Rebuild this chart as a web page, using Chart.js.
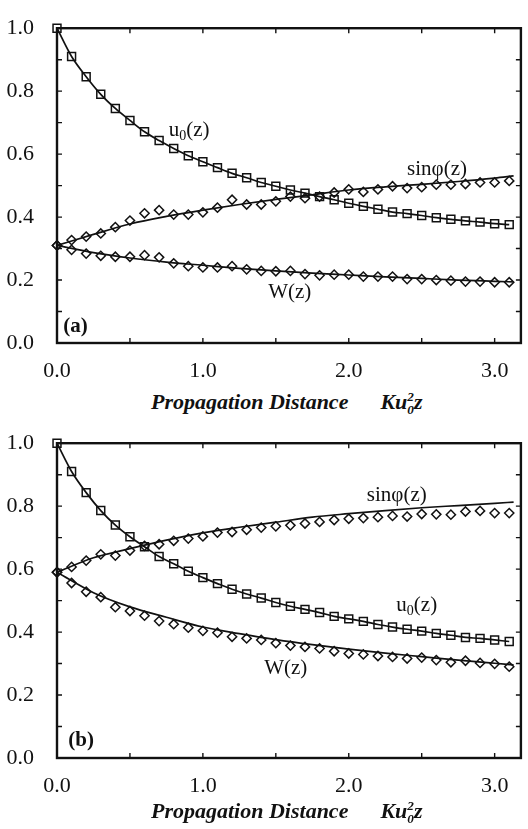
<!DOCTYPE html>
<html>
<head>
<meta charset="utf-8">
<script src="https://cdn.jsdelivr.net/npm/chart.js@4.4.0/dist/chart.umd.min.js"></script>
<style>
  body { margin: 0; background: #fff; }
  #wrap { position: relative; width: 528px; height: 829px; overflow: hidden; }
  .panel { position: absolute; left: 0; width: 528px; height: 385px; }
  .xtitle { position: absolute; left: 151px; font-family: "Liberation Serif", "Times New Roman", serif; font-style: italic; font-weight: bold; font-size: 22px; color: #111; white-space: nowrap; line-height: 24px; }
  .gap { margin-left: 32px; }
  .ss { display: inline-block; vertical-align: -0.35em; font-size: 0.6em; line-height: 0.95; }
  .ss span { display: block; }
</style>
</head>
<body>
<div id="wrap">
  <canvas id="chartA" class="panel" width="528" height="385" style="top:0px"></canvas>
  <div class="xtitle" style="top:390px">Propagation Distance<span class="gap">Ku<span class="ss"><span>2</span><span>0</span></span>z</span></div>
  <canvas id="chartB" class="panel" width="528" height="385" style="top:415px"></canvas>
  <div class="xtitle" style="top:799px">Propagation Distance<span class="gap">Ku<span class="ss"><span>2</span><span>0</span></span>z</span></div>
</div>
<script>
// propagation distance of the simulated points
const zs = [0.0, 0.1, 0.2, 0.3, 0.4, 0.5, 0.6, 0.7, 0.8, 0.9, 1.0, 1.1, 1.2, 1.3, 1.4, 1.5,
            1.6, 1.7, 1.8, 1.9, 2.0, 2.1, 2.2, 2.3, 2.4, 2.5, 2.6, 2.7, 2.8, 2.9, 3.0, 3.1];

// panel (a) - points
const u0A  = [1.0, 0.91, 0.846, 0.79, 0.745, 0.707, 0.671, 0.643, 0.618, 0.595, 0.576, 0.557, 0.539, 0.525, 0.51, 0.498,
              0.486, 0.476, 0.465, 0.455, 0.444, 0.434, 0.425, 0.416, 0.411, 0.405, 0.398, 0.393, 0.388, 0.384, 0.379, 0.376];
const sinA = [0.31, 0.327, 0.338, 0.348, 0.368, 0.389, 0.412, 0.422, 0.408, 0.408, 0.415, 0.43, 0.455, 0.44, 0.44, 0.45,
              0.465, 0.46, 0.465, 0.478, 0.488, 0.48, 0.488, 0.498, 0.492, 0.495, 0.503, 0.503, 0.505, 0.51, 0.51, 0.515];
const wA   = [0.31, 0.296, 0.284, 0.277, 0.274, 0.274, 0.279, 0.272, 0.253, 0.244, 0.24, 0.24, 0.244, 0.234, 0.229, 0.228,
              0.229, 0.219, 0.215, 0.217, 0.217, 0.211, 0.211, 0.211, 0.203, 0.203, 0.2, 0.198, 0.195, 0.195, 0.193, 0.193];

// panel (b) - points
const u0B  = [1.0, 0.91, 0.843, 0.786, 0.74, 0.703, 0.671, 0.64, 0.617, 0.593, 0.573, 0.554, 0.536, 0.521, 0.508, 0.494,
              0.482, 0.472, 0.462, 0.45, 0.442, 0.434, 0.424, 0.416, 0.409, 0.403, 0.396, 0.39, 0.383, 0.38, 0.375, 0.37];
const sinB = [0.59, 0.607, 0.627, 0.647, 0.643, 0.659, 0.674, 0.679, 0.69, 0.697, 0.704, 0.716, 0.718, 0.725, 0.732, 0.736,
              0.739, 0.745, 0.75, 0.756, 0.76, 0.762, 0.765, 0.769, 0.767, 0.775, 0.774, 0.773, 0.783, 0.785, 0.778, 0.778];
const wB   = [0.59, 0.556, 0.528, 0.511, 0.479, 0.467, 0.452, 0.435, 0.425, 0.414, 0.404, 0.398, 0.385, 0.38, 0.375, 0.365,
              0.357, 0.353, 0.348, 0.339, 0.332, 0.329, 0.324, 0.321, 0.316, 0.319, 0.311, 0.304, 0.309, 0.302, 0.299, 0.29];

// solid curves (analytic result)
const lineZ    = [0.0, 0.25, 0.5, 0.75, 1.0, 1.25, 1.5, 1.75, 2.0, 2.25, 2.5, 2.75, 3.0, 3.13];
const sinLineA = [0.31, 0.345, 0.378, 0.402, 0.422, 0.44, 0.456, 0.471, 0.486, 0.496, 0.504, 0.513, 0.524, 0.531];
const wLineA   = [0.31, 0.287, 0.27, 0.257, 0.247, 0.237, 0.229, 0.222, 0.216, 0.21, 0.205, 0.2, 0.196, 0.194];
const sinLineB = [0.59, 0.636, 0.665, 0.692, 0.715, 0.733, 0.749, 0.765, 0.776, 0.786, 0.795, 0.802, 0.809, 0.813];
const wLineB   = [0.59, 0.525, 0.48, 0.447, 0.416, 0.395, 0.376, 0.36, 0.346, 0.333, 0.322, 0.311, 0.301, 0.296];

const yTicks = [0.0, 0.2, 0.4, 0.6, 0.8, 1.0];
const xTicks = [0.0, 1.0, 2.0, 3.0];

const INK = '#111';
const SERIF = '"Liberation Serif", "Times New Roman", serif';

function pts(xs, ys) {
  return xs.map((x, i) => ({ x: x, y: ys[i] }));
}

// frame, inward ticks on all four sides and the curve labels
function framePlugin(notes) {
  return {
    id: 'frame',
    afterDatasetsDraw(chart) {
      const { ctx, chartArea: a, scales: { x, y } } = chart;
      ctx.save();
      ctx.strokeStyle = INK;
      ctx.lineWidth = 1.4;
      ctx.beginPath();
      x.ticks.forEach(t => {
        if (Math.abs(t.value * 2 - Math.round(t.value * 2)) > 1e-6) return;
        const px = x.getPixelForValue(t.value);
        ctx.moveTo(px, a.bottom); ctx.lineTo(px, a.bottom - 5);
        ctx.moveTo(px, a.top); ctx.lineTo(px, a.top + 5);
      });
      y.ticks.forEach(t => {
        const py = y.getPixelForValue(t.value);
        ctx.moveTo(a.left, py); ctx.lineTo(a.left + 5, py);
        ctx.moveTo(a.right, py); ctx.lineTo(a.right - 5, py);
      });
      ctx.stroke();
      ctx.lineWidth = 2.4;
      ctx.strokeRect(a.left, a.top, a.right - a.left, a.bottom - a.top);

      ctx.fillStyle = INK;
      ctx.textAlign = 'left';
      ctx.textBaseline = 'alphabetic';
      notes.forEach(n => {
        let px = x.getPixelForValue(n.z);
        const py = y.getPixelForValue(n.v);
        const main = (n.bold ? 'bold ' : '') + '21px ' + SERIF;
        ctx.font = main;
        ctx.fillText(n.t, px, py);
        px += ctx.measureText(n.t).width;
        if (n.sub) {
          ctx.font = '14px ' + SERIF;
          ctx.fillText(n.sub, px, py + 4);
          px += ctx.measureText(n.sub).width;
          ctx.font = main;
        }
        if (n.r) ctx.fillText(n.r, px, py);
      });
      ctx.restore();
    }
  };
}

function makePanel(id, u0, sin, w, sinLine, wLine, notes) {
  const marker = { borderColor: INK, pointBorderColor: INK, pointBackgroundColor: 'rgba(0,0,0,0)', pointBorderWidth: 1.5, clip: false };
  const curve = { borderColor: INK, borderWidth: 1.7, pointRadius: 0, tension: 0.4, cubicInterpolationMode: 'monotone', showLine: true, fill: false };
  new Chart(document.getElementById(id), {
    type: 'scatter',
    data: {
      datasets: [
        Object.assign({}, curve, { data: pts(lineZ, sinLine) }),
        Object.assign({}, curve, { data: pts(lineZ, wLine) }),
        Object.assign({}, marker, { data: pts(zs, sin), pointStyle: 'rectRot', pointRadius: 4.6, showLine: false }),
        Object.assign({}, marker, { data: pts(zs, w), pointStyle: 'rectRot', pointRadius: 4.6, showLine: false }),
        Object.assign({}, marker, { data: pts(zs, u0), pointStyle: 'rect', pointRadius: 5.6, showLine: true,
                                    borderWidth: 1.7, tension: 0.3, cubicInterpolationMode: 'monotone' })
      ]
    },
    options: {
      responsive: false,
      animation: false,
      layout: { padding: { top: 16, right: 1, left: 0, bottom: 0 } },
      plugins: { legend: { display: false }, tooltip: { enabled: false } },
      scales: {
        x: {
          type: 'linear', min: 0, max: 3.18,
          grid: { display: false }, border: { display: false },
          ticks: {
            stepSize: 0.5, includeBounds: false, autoSkip: false, maxRotation: 0, padding: 7,
            color: INK, font: { family: SERIF, size: 22 },
            callback: v => xTicks.some(t => Math.abs(t - v) < 1e-6) ? v.toFixed(1) : ''
          },
          afterFit: s => { s.height = 42; }
        },
        y: {
          min: 0, max: 1,
          grid: { display: false }, border: { display: false },
          ticks: {
            stepSize: 0.1, autoSkip: false, padding: 15,
            color: INK, font: { family: SERIF, size: 22 },
            callback: v => yTicks.some(t => Math.abs(t - v) < 1e-6) ? v.toFixed(1) : ''
          },
          afterFit: s => { s.width = 57; }
        }
      }
    },
    plugins: [framePlugin(notes)]
  });
}

makePanel('chartA', u0A, sinA, wA, sinLineA, wLineA, [
  { t: 'u', sub: '0', r: '(z)', z: 0.766, v: 0.656 },
  { t: 'sin\u03c6(z)', z: 2.40, v: 0.534 },
  { t: 'W(z)', z: 1.448, v: 0.144 },
  { t: '(a)', z: 0.043, v: 0.034, bold: true }
]);

makePanel('chartB', u0B, sinB, wB, sinLineB, wLineB, [
  { t: 'sin\u03c6(z)', z: 2.124, v: 0.817 },
  { t: 'u', sub: '0', r: '(z)', z: 2.326, v: 0.467 },
  { t: 'W(z)', z: 1.42, v: 0.268 },
  { t: '(b)', z: 0.077, v: 0.039, bold: true }
]);
</script>
</body>
</html>
